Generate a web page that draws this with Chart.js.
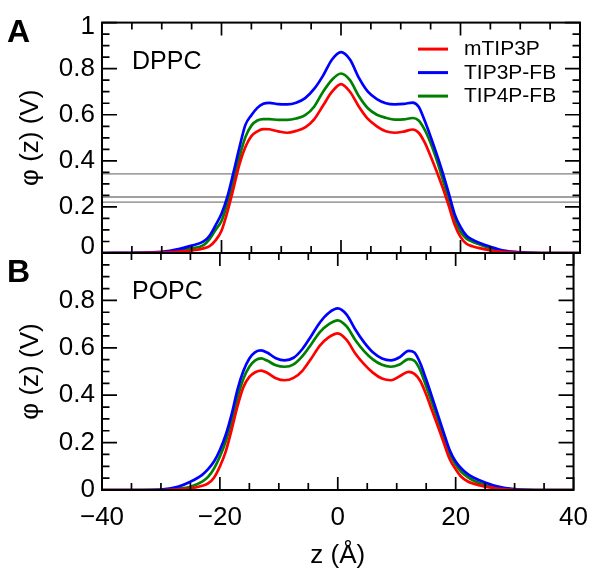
<!DOCTYPE html>
<html>
<head>
<meta charset="utf-8">
<script src="https://cdn.jsdelivr.net/npm/chart.js@4/dist/chart.umd.min.js"></script>
<style>
  html, body { margin: 0; padding: 0; background: #fff; }
  #wrap { position: relative; width: 600px; height: 579px; background: #fff; overflow: hidden; }
  .box { position: absolute; left: 0; width: 600px; }
</style>
</head>
<body>
<div id="wrap">
  <div class="box" id="boxA" style="top:0px;height:290px;"><canvas id="cA"></canvas></div>
  <div class="box" id="boxB" style="top:216px;height:363px;"><canvas id="cB"></canvas></div>
</div>
<script>
// ---------------- data ----------------
const seriesNames = ['mTIP3P', 'TIP3P-FB', 'TIP4P-FB'];
const panelNames = ['DPPC', 'POPC'];
const panelLetters = ['A', 'B'];
const Z = [-40,-35,-30,-27,-25,-23,-22,-21,-20,-19,-18,-17,-16,-15,-14,-13,-12,
           -10.5,-9,-7.5,-6,-4.5,-3,-1.5,0,1.5,3,4.5,6,7.5,9,10.5,
           12,13,14,15,16,17,18,19,20,21,22,23,
           25,27,30,35,40];

const dppcM = [0,0,0.002,0.006,0.011,0.02,0.03,0.055,0.097,0.18,0.28,0.385,0.46,0.507,0.528,0.538,0.537,
               0.528,0.522,0.53,0.545,0.58,0.64,0.7,0.733,0.7,0.635,0.582,0.55,0.528,0.522,0.527,
               0.536,0.522,0.48,0.42,0.355,0.285,0.208,0.125,0.07,0.04,0.029,0.022,
               0.011,0.005,0.001,0,0];
const dppcT3 = [0,0.001,0.005,0.018,0.032,0.05,0.075,0.12,0.17,0.246,0.349,0.458,0.556,0.598,0.63,0.648,0.652,
                0.646,0.645,0.652,0.672,0.712,0.77,0.84,0.872,0.84,0.76,0.7,0.668,0.65,0.645,0.647,
                0.653,0.635,0.575,0.505,0.43,0.35,0.262,0.17,0.113,0.075,0.058,0.046,
                0.027,0.012,0.003,0,0];
const dppcT4 = [0,0,0.003,0.01,0.02,0.034,0.06,0.1,0.139,0.215,0.31,0.417,0.503,0.553,0.575,0.581,0.581,
                0.578,0.578,0.584,0.598,0.635,0.7,0.752,0.779,0.75,0.68,0.628,0.6,0.587,0.579,0.58,
                0.586,0.575,0.535,0.477,0.405,0.322,0.237,0.148,0.093,0.062,0.049,0.039,
                0.02,0.008,0.002,0,0];

const popcM = [0,0,0,0.003,0.007,0.018,0.028,0.052,0.099,0.163,0.255,0.355,0.435,0.477,0.497,0.504,0.495,
               0.472,0.463,0.473,0.503,0.555,0.61,0.645,0.661,0.633,0.575,0.53,0.494,0.47,0.463,0.48,
               0.498,0.49,0.46,0.403,0.335,0.268,0.198,0.13,0.088,0.055,0.037,0.027,
               0.014,0.006,0.001,0,0];
const popcT3 = [0,0,0.002,0.015,0.035,0.064,0.088,0.12,0.169,0.233,0.32,0.425,0.503,0.555,0.582,0.589,0.58,
                0.556,0.547,0.558,0.595,0.65,0.708,0.748,0.766,0.74,0.676,0.622,0.58,0.555,0.547,0.56,
                0.587,0.58,0.535,0.466,0.392,0.316,0.24,0.168,0.12,0.09,0.068,0.053,
                0.032,0.016,0.004,0,0];
const popcT4 = [0,0,0.001,0.006,0.014,0.035,0.055,0.09,0.141,0.205,0.29,0.39,0.47,0.52,0.547,0.555,0.546,
                0.526,0.52,0.53,0.565,0.615,0.667,0.7,0.716,0.69,0.632,0.585,0.55,0.528,0.52,0.53,
                0.552,0.545,0.505,0.438,0.368,0.295,0.22,0.152,0.108,0.076,0.055,0.04,
                0.021,0.008,0.002,0,0];

const dppcRefLines = [0.343, 0.243, 0.221];

const xMin = -40, xMax = 40, xMajor = 20, xMinor = 5;
const yMin = 0, yMax = 1, yMajor = 0.2, yMinor = 0.05;
const xTitle = 'z (Å)';
const yTitle = 'φ (z) (V)';

// ---------------- styling ----------------
const colors = ['#ff0000', '#0000ff', '#008000'];
const FONT = '"Liberation Sans", Arial, Helvetica, sans-serif';
Chart.defaults.font.family = FONT;
Chart.defaults.color = '#000';

function pts(ys) { return Z.map((z, i) => ({ x: z, y: ys[i] })); }
function fmtY(v) { return String(Math.round(v * 10) / 10); }
function fmtX(v) { return v < 0 ? '\u2212' + Math.abs(v) : String(v); }

function curveSets(arrs) {
  return arrs.map((a, i) => ({
    label: seriesNames[i], data: pts(a), borderColor: colors[i], backgroundColor: colors[i],
    borderWidth: 2.7, pointRadius: 0, cubicInterpolationMode: 'monotone', fill: false, order: 0
  }));
}

function isMult(v, step) { const r = v / step; return Math.abs(r - Math.round(r)) < 1e-6; }

const frameTicks = {
  id: 'frameTicks',
  afterDatasetsDraw(chart) {
    const { ctx, chartArea: a, scales: { x, y } } = chart;
    ctx.save();
    ctx.strokeStyle = '#000';
    ctx.lineWidth = 2;
    ctx.strokeRect(a.left, a.top, a.right - a.left, a.bottom - a.top);
    ctx.lineWidth = 1.7;
    ctx.beginPath();
    for (let k = 0; ; k++) {
      const v = yMin + k * yMinor;
      if (v > yMax + 1e-9) break;
      const L = isMult(v, yMajor) ? 15 : 7.5;
      const py = y.getPixelForValue(v);
      ctx.moveTo(a.left, py); ctx.lineTo(a.left + L, py);
      ctx.moveTo(a.right, py); ctx.lineTo(a.right - L, py);
    }
    for (let k = 0; ; k++) {
      const v = xMin + k * xMinor;
      if (v > xMax + 1e-9) break;
      const L = isMult(v, xMajor) ? 13 : 7;
      const px = x.getPixelForValue(v);
      ctx.moveTo(px, a.top); ctx.lineTo(px, a.top + L);
      ctx.moveTo(px, a.bottom); ctx.lineTo(px, a.bottom - L);
    }
    ctx.stroke();
    ctx.restore();
  }
};

function panelText(idx, withLegend) {
  return {
    id: 'panelText' + idx,
    afterDraw(chart) {
      const { ctx, chartArea: a, scales: { y } } = chart;
      ctx.save();
      ctx.fillStyle = '#000';
      // panel letter
      ctx.font = 'bold 32px ' + FONT;
      ctx.textAlign = 'left'; ctx.textBaseline = 'middle';
      ctx.fillText(panelLetters[idx], 7, a.top + (idx === 0 ? 11 : 20));
      // panel name
      ctx.font = '25px ' + FONT;
      ctx.fillText(panelNames[idx], a.left + 30, a.top + 39.5);
      if (withLegend) {
        // edge tick labels shifted inward like the reference
        ctx.font = '26px ' + FONT;
        ctx.textAlign = 'right';
        ctx.fillText(fmtY(yMax), a.left - 7, y.getPixelForValue(yMax) + 4);
        ctx.fillText(fmtY(yMin), a.left - 7, y.getPixelForValue(yMin) - 6);
        // legend
        const rows = [a.top + 26.5, a.top + 50, a.top + 73.5];
        chart.data.datasets.filter(d => seriesNames.includes(d.label)).forEach((d, i) => {
          ctx.strokeStyle = d.borderColor; ctx.lineWidth = 3;
          ctx.beginPath(); ctx.moveTo(418, rows[i]); ctx.lineTo(448, rows[i]); ctx.stroke();
          ctx.font = '21px ' + FONT; ctx.textAlign = 'left'; ctx.textBaseline = 'middle';
          ctx.fillText(d.label, 464, rows[i] + 0.5);
        });
      }
      ctx.restore();
    }
  };
}

const yAxisBase = (hideTop, hideBottom) => ({
  type: 'linear', min: yMin, max: yMax,
  grid: { display: false, drawTicks: false },
  border: { display: false },
  ticks: {
    stepSize: yMajor, padding: 7, font: { size: 26 }, color: '#000',
    callback: (v) => ((hideTop && Math.abs(v - yMax) < 1e-6) || (hideBottom && Math.abs(v - yMin) < 1e-6)) ? '' : fmtY(v)
  },
  title: { display: true, text: yTitle, font: { size: 26 }, color: '#000', padding: { top: 15, bottom: 0 } },
  afterFit: (s) => { s.width = 102; }
});

// ---------------- top chart (DPPC) ----------------
const refSets = dppcRefLines.map((v, i) => ({
  label: 'ref' + i, data: [{ x: xMin, y: v }, { x: xMax, y: v }],
  borderColor: '#7f7f7f', borderWidth: 1.3, pointRadius: 0, order: 10
}));

new Chart(document.getElementById('cA'), {
  type: 'line',
  data: { datasets: curveSets([dppcM, dppcT3, dppcT4]).concat(refSets) },
  options: {
    responsive: true, maintainAspectRatio: false, animation: false, devicePixelRatio: 1,
    layout: { padding: { left: 0, right: 20, top: 16, bottom: 37 } },
    plugins: { legend: { display: false }, tooltip: { enabled: false } },
    scales: {
      x: { type: 'linear', min: xMin, max: xMax, display: false },
      y: yAxisBase(true, true)
    }
  },
  plugins: [frameTicks, panelText(0, true)]
});

// ---------------- bottom chart (POPC) ----------------
new Chart(document.getElementById('cB'), {
  type: 'line',
  data: { datasets: curveSets([popcM, popcT3, popcT4]) },
  options: {
    responsive: true, maintainAspectRatio: false, animation: false, devicePixelRatio: 1,
    layout: { padding: { left: 0, right: 20, top: 37, bottom: 0 } },
    plugins: { legend: { display: false }, tooltip: { enabled: false } },
    scales: {
      x: {
        type: 'linear', min: xMin, max: xMax,
        grid: { display: false, drawTicks: false },
        border: { display: false },
        ticks: { stepSize: xMajor, padding: 12, font: { size: 26 }, color: '#000', maxRotation: 0, autoSkip: false,
                 callback: (v) => fmtX(v) },
        title: { display: true, text: xTitle, font: { size: 26 }, color: '#000', padding: { top: 0, bottom: 8 } },
        afterFit: (s) => { s.height = 89; }
      },
      y: yAxisBase(true, false)
    }
  },
  plugins: [frameTicks, panelText(1, false)]
});
</script>
</body>
</html>
